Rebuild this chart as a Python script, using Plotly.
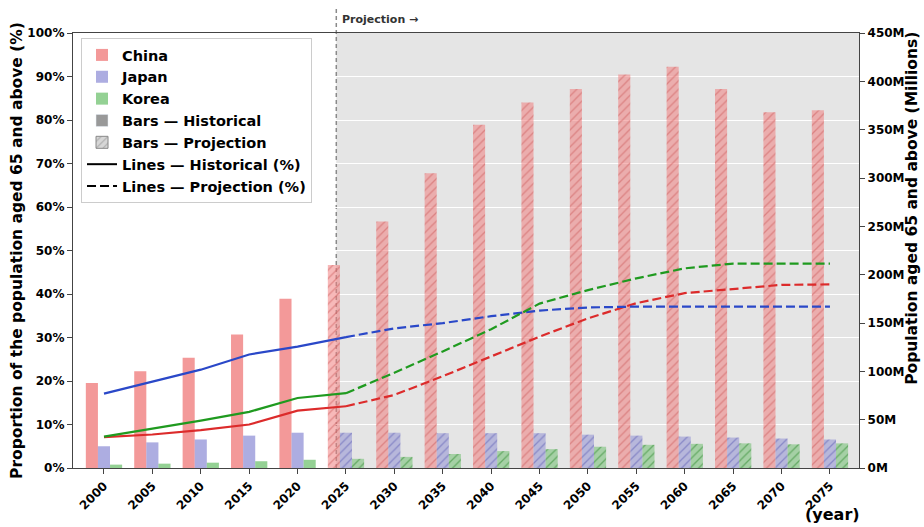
import plotly.graph_objects as go

# ---- data -------------------------------------------------------------
years = [2000, 2005, 2010, 2015, 2020, 2025, 2030, 2035,
         2040, 2045, 2050, 2055, 2060, 2065, 2070, 2075]
n_hist = 5            # 2000-2020 are historical, 2025+ projected

# population aged 65+ (millions) -> bars, right axis
china_pop = [88, 100, 114, 138, 175, 210, 255, 305,
             355, 378, 392, 407, 415, 392, 368, 370]
japan_pop = [22.5, 26.5, 29.5, 33.5, 36.5, 36.5, 36.5, 36.0,
             36.0, 36.0, 34.5, 33.5, 32.5, 31.5, 30.5, 29.5]
korea_pop = [3.5, 4.5, 5.5, 7.0, 8.5, 9.5, 11.5, 14.5,
             17.5, 19.5, 22.0, 24.0, 25.0, 25.5, 24.5, 25.5]

# share of population aged 65+ (%) -> lines, left axis
china_pct = [7.1, 7.7, 8.7, 10.0, 13.2, 14.2, 16.8, 21.1,
             25.6, 30.2, 34.4, 37.9, 40.2, 41.1, 42.1, 42.2]
japan_pct = [17.1, 19.8, 22.6, 26.1, 27.9, 30.1, 32.1, 33.3,
             34.9, 36.2, 36.9, 37.1, 37.1, 37.1, 37.1, 37.1]
korea_pct = [7.2, 9.0, 10.9, 12.9, 16.1, 17.2, 21.9, 26.8,
             31.9, 37.8, 40.9, 43.6, 45.9, 47.0, 47.0, 47.0]

pct_ticks = list(range(0, 101, 10))
pop_ticks = list(range(0, 451, 50))
projection_start = 2024

# ---- styling ----------------------------------------------------------
FONT = "DejaVu Sans"
countries = [
    # name, bar values, line values, bar hist, bar proj, hatch, line, offset
    ("China", china_pop, china_pct, "rgba(240,128,128,0.8)",
     "rgba(240,128,128,0.55)", "rgba(205,95,95,0.55)", "#dc2b2b", -1.875),
    ("Japan", japan_pop, japan_pct, "rgba(118,118,205,0.6)",
     "rgba(118,118,205,0.42)", "rgba(90,90,180,0.5)", "#2a48c8", -0.625),
    ("Korea", korea_pop, korea_pct, "rgba(76,178,76,0.6)",
     "rgba(76,178,76,0.42)", "rgba(50,140,50,0.55)", "#1f9a1f", 0.625),
]
BAR_W = 1.25
DASH = "9px,4px"

fig = go.Figure()

# bars (primary y, drawn on the right)
for name, pop, pct, c_hist, c_proj, c_hatch, c_line, off in countries:
    fig.add_trace(go.Bar(
        x=years[:n_hist], y=pop[:n_hist], name=name,
        width=BAR_W, offset=off, yaxis="y",
        marker=dict(color=c_hist, line=dict(width=0)),
        showlegend=True,
    ))
    fig.add_trace(go.Bar(
        x=years[n_hist:], y=pop[n_hist:], name=name + " (projection)",
        width=BAR_W, offset=off, yaxis="y",
        marker=dict(color=c_proj, line=dict(width=0),
                    pattern=dict(shape="/", fgcolor=c_hatch, bgcolor=c_proj,
                                 fillmode="replace", size=6, solidity=0.22)),
        showlegend=False,
    ))

# lines (overlay y2, drawn on the left)
for name, pop, pct, c_hist, c_proj, c_hatch, c_line, off in countries:
    fig.add_trace(go.Scatter(
        x=years[:n_hist + 1], y=pct[:n_hist + 1], mode="lines", yaxis="y2",
        line=dict(color=c_line, width=2.2), showlegend=False,
    ))
    fig.add_trace(go.Scatter(
        x=years[n_hist:], y=pct[n_hist:], mode="lines", yaxis="y2",
        line=dict(color=c_line, width=2.2, dash=DASH), showlegend=False,
    ))

# legend-only keys
fig.add_trace(go.Bar(x=[None], y=[None], name="Bars — Historical",
                     marker=dict(color="rgba(128,128,128,0.8)"), yaxis="y"))
fig.add_trace(go.Bar(x=[None], y=[None], name="Bars — Projection",
                     marker=dict(color="rgba(200,200,200,0.8)",
                                 line=dict(color="#888", width=1),
                                 pattern=dict(shape="/", fgcolor="#888",
                                              bgcolor="rgba(215,215,215,1)",
                                              size=6, solidity=0.25)),
                     yaxis="y"))
fig.add_trace(go.Scatter(x=[None], y=[None], mode="lines", yaxis="y2",
                         name="Lines — Historical (%)",
                         line=dict(color="black", width=2)))
fig.add_trace(go.Scatter(x=[None], y=[None], mode="lines", yaxis="y2",
                         name="Lines — Projection (%)",
                         line=dict(color="black", width=2, dash=DASH)))

# projection region + divider
fig.add_shape(type="rect", xref="x", yref="paper",
              x0=projection_start, x1=2078, y0=0, y1=1,
              fillcolor="#e5e5e5", line=dict(width=0), layer="below")
fig.add_shape(type="line", xref="x", yref="paper",
              x0=projection_start, x1=projection_start, y0=0, y1=1.055,
              line=dict(color="#8a8a8a", width=1.5, dash="4px,3px"),
              layer="between")
fig.add_annotation(x=projection_start, xref="x", y=1.03, yref="paper",
                   text="Projection →", showarrow=False,
                   xanchor="left", yanchor="middle", xshift=4,
                   font=dict(family=FONT, size=11, color="#333",
                             weight="bold"))
fig.add_annotation(x=0.966, xref="paper", y=-0.108, yref="paper",
                   text="(year)", showarrow=False,
                   xanchor="center", yanchor="middle",
                   font=dict(family=FONT, size=16, color="black",
                             weight="bold"))

tick_font = dict(family=FONT, size=12, color="black", weight="bold")
title_font = dict(family=FONT, size=15.5, color="black", weight="bold")
AX = "#444444"

# axis titles
fig.add_annotation(x=-0.072, xref="paper", y=0.5, yref="paper",
                   text="Proportion of the population aged 65 and above (%)",
                   textangle=-90, showarrow=False,
                   xanchor="center", yanchor="middle", font=title_font)
fig.add_annotation(x=1.0674, xref="paper", y=0.598, yref="paper",
                   text="Population aged 65 and above (Millions)",
                   textangle=-90, showarrow=False,
                   xanchor="center", yanchor="middle", font=title_font)

fig.update_layout(
    width=924, height=527,
    margin=dict(l=73, r=65, t=33, b=59),
    paper_bgcolor="white", plot_bgcolor="white",
    barmode="overlay",
    font=dict(family=FONT, color="black"),
    xaxis=dict(
        range=[1996.8, 2078], tickvals=years,
        ticktext=[str(y) for y in years], tickangle=-45,
        tickfont=tick_font, ticks="outside", ticklen=5, tickcolor=AX,
        showline=True, linecolor=AX, linewidth=1.3, mirror=True,
        showgrid=False, zeroline=False,
    ),
    yaxis=dict(
        side="right", range=[0, 450], tickvals=pop_ticks,
        ticktext=[f"{v}M" for v in pop_ticks], tickfont=tick_font,
        ticks="outside", ticklen=5, tickcolor=AX,
        showline=True, linecolor=AX, linewidth=1.3,
        showgrid=False, zeroline=False,
    ),
    yaxis2=dict(
        overlaying="y", side="left", range=[0, 100], tickvals=pct_ticks,
        ticktext=[f"{v}%" for v in pct_ticks], tickfont=tick_font,
        ticks="outside", ticklen=5, tickcolor=AX,
        showline=True, linecolor=AX, linewidth=1.3,
        showgrid=True, gridcolor="white", gridwidth=1.2, zeroline=False,
    ),
    legend=dict(
        x=0.0102, y=0.9885, xanchor="left", yanchor="top",
        bgcolor="rgba(255,255,255,0.85)", bordercolor="#cccccc",
        borderwidth=1, traceorder="normal",
        font=dict(family=FONT, size=14.5, color="black", weight="bold"),
        itemwidth=30,
    ),
)

fig.write_html("out.html")
